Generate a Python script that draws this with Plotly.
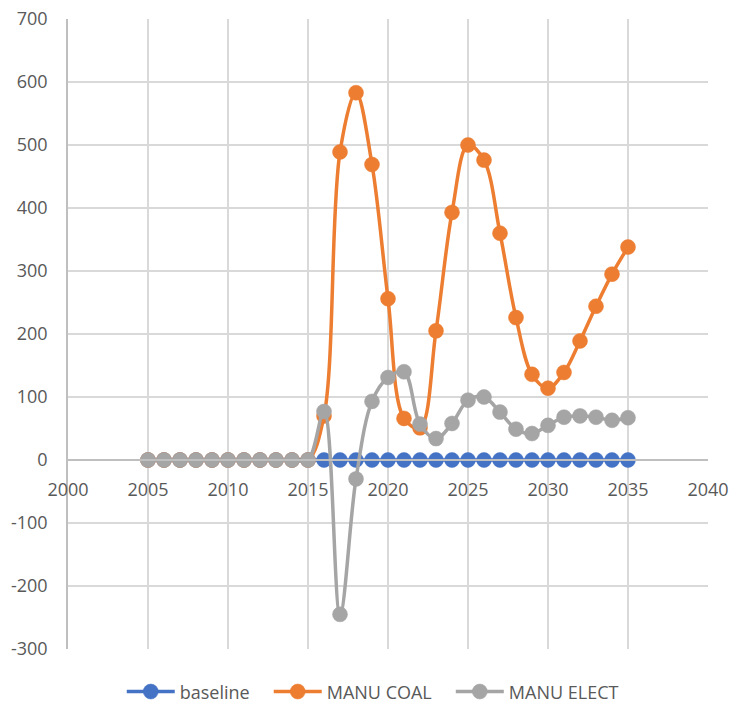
import plotly.graph_objects as go

years = list(range(2005, 2036))
baseline = [0] * 31
manu_coal = [0, 0, 0, 0, 0, 0, 0, 0, 0, 0, 0,
             70, 489, 583, 469, 256, 66, 51, 205, 393,
             500, 476, 360, 226, 136, 114, 139, 189, 244, 295, 338]
manu_elect = [0, 0, 0, 0, 0, 0, 0, 0, 0, 0, 0,
              77, -245, -30, 93, 131, 140, 57, 34, 58,
              95, 100, 76, 49, 42, 55, 68, 70, 68, 63, 67]

y_tick_vals = [-300, -200, -100, 0, 100, 200, 300, 400, 500, 600, 700]
y_tick_text = ["-300", "-200", "-100", "0", "100", "200", "300", "400", "500", "600", "700"]

series = [("baseline", baseline, "#4472C4"),
          ("MANU COAL", manu_coal, "#ED7D31"),
          ("MANU ELECT", manu_elect, "#A5A5A5")]

PAD = "\u00a0" * 3

fig = go.Figure()
for i, (name, vals, col) in enumerate(series):
    fig.add_trace(go.Scatter(
        x=years, y=vals, name=name + (PAD if i < len(series) - 1 else ""),
        mode="lines+markers",
        line=dict(color=col, width=3.5, shape="spline", smoothing=1),
        marker=dict(color=col, size=15, line=dict(color=col, width=0.5)),
    ))

font_col = "#595959"
fig.update_layout(
    width=729, height=707,
    margin=dict(l=68, r=21, t=19, b=58, autoexpand=False),
    paper_bgcolor="white", plot_bgcolor="white",
    font=dict(family="Open Sans", size=18, color=font_col),
    showlegend=True,
    legend=dict(orientation="h", x=0.084, xanchor="left", y=-0.068, yanchor="middle",
                font=dict(size=18, color=font_col), itemwidth=48, traceorder="normal"),
    xaxis=dict(range=[2000, 2040], dtick=5, tick0=2000, showgrid=True, gridcolor="#D9D9D9",
               gridwidth=1.5, zeroline=False, showline=True, linecolor="#BFBFBF", linewidth=1.5,
               anchor="free", position=0.3, ticks="outside", ticklen=14, automargin=False,
               ticklabeloverflow="allow",
               tickcolor="rgba(0,0,0,0)", tickfont=dict(size=18, color=font_col)),
    yaxis=dict(range=[-300, 700], tickvals=y_tick_vals, ticktext=y_tick_text,
               showgrid=True, gridcolor="#D9D9D9", gridwidth=1.5,
               zeroline=False, showline=True, linecolor="#BFBFBF", linewidth=1.5,
               ticks="outside", ticklen=15, tickcolor="rgba(0,0,0,0)", automargin=False,
               ticklabeloverflow="allow",
               tickfont=dict(size=18, color=font_col)),
)

fig.write_html(
    "out.html",
    config={"displayModeBar": False},
    post_script="document.body.style.margin='0px';document.body.style.overflow='hidden';",
)
